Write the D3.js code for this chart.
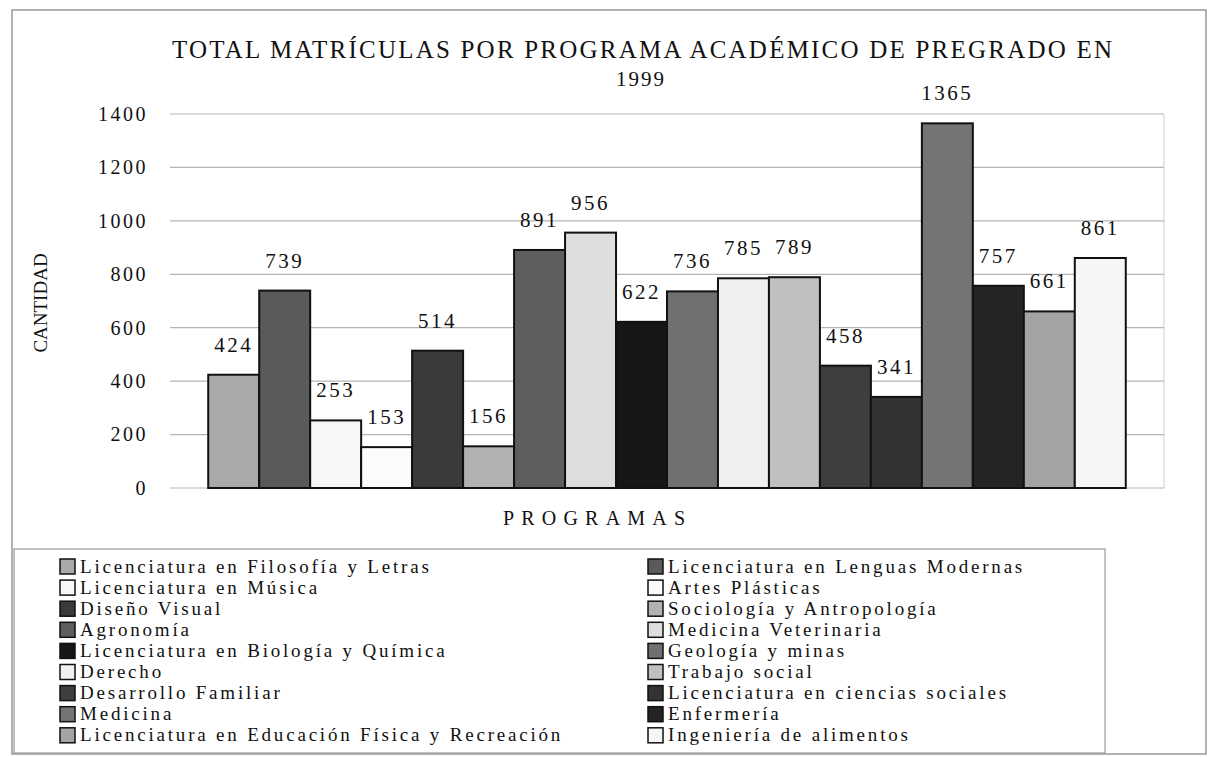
<!DOCTYPE html>
<html>
<head>
<meta charset="utf-8">
<script src="https://cdn.jsdelivr.net/npm/d3@7"></script>
<style>
  body { margin: 0; background: #fff; }
  svg text { font-family: "Liberation Serif", "Times New Roman", serif; fill: #111; }
</style>
</head>
<body>
<div id="chart"></div>
<script>
// datos
var programas = [
  "Licenciatura en Filosofía y Letras",
  "Licenciatura en Lenguas Modernas",
  "Licenciatura en Música",
  "Artes Plásticas",
  "Diseño Visual",
  "Sociología y Antropología",
  "Agronomía",
  "Medicina Veterinaria",
  "Licenciatura en Biología y Química",
  "Geología y minas",
  "Derecho",
  "Trabajo social",
  "Desarrollo Familiar",
  "Licenciatura en ciencias sociales",
  "Medicina",
  "Enfermería",
  "Licenciatura en Educación Física y Recreación",
  "Ingeniería de alimentos"
]
var matriculas = [424, 739, 253, 153, 514, 156, 891, 956, 622, 736, 785, 789, 458, 341, 1365, 757, 661, 861]
var colores = ["#a9a9a9", "#5a5a5a", "#f7f7f7", "#fbfbfb", "#3a3a3a", "#b2b2b2", "#5e5e5e", "#dedede",
  "#161616", "#707070", "#f0f0f0", "#c0c0c0", "#3e3e3e", "#333333", "#747474", "#242424", "#a4a4a4", "#f6f6f6"]
var yTicks = [0, 200, 400, 600, 800, 1000, 1200, 1400]

var W = 1211, H = 757
var plot = {left: 170, right: 1164, top: 114, bottom: 488}

var svg = d3.select("#chart").append("svg")
  .attr("width", W)
  .attr("height", H)

// marco exterior
svg.append("rect")
  .attr("x", 12).attr("y", 10)
  .attr("width", 1194).attr("height", 744)
  .attr("fill", "none").attr("stroke", "#999").attr("stroke-width", 1.5)

svg.append("text")
  .attr("x", 172).attr("y", 58)
  .attr("textLength", 940).attr("lengthAdjust", "spacing")
  .style("font-size", "25px")
  .text("TOTAL MATRÍCULAS POR PROGRAMA ACADÉMICO DE PREGRADO  EN")

svg.append("text")
  .attr("x", 641).attr("y", 86)
  .attr("text-anchor", "middle")
  .style("font-size", "21px").style("letter-spacing", "2px")
  .text("1999")

var y = d3.scaleLinear().domain([0, 1400]).range([plot.bottom, plot.top])
var x = d3.scaleBand().domain(programas).range([plot.left, plot.right])
  .paddingInner(0).paddingOuter(0.75)

var g = svg.append("g")

// lineas de division
g.selectAll(".grid").data(yTicks).enter().append("line")
  .attr("class", "grid")
  .attr("x1", plot.left).attr("x2", plot.right)
  .attr("y1", function(d){ return y(d) }).attr("y2", function(d){ return y(d) })
  .attr("stroke", "#b5b5b5").attr("stroke-width", 1.2)

g.append("line")
  .attr("x1", plot.right).attr("x2", plot.right)
  .attr("y1", plot.top).attr("y2", plot.bottom)
  .attr("stroke", "#cfcfcf").attr("stroke-width", 1)

var yAxis = d3.axisLeft(y).tickValues(yTicks).tickFormat(d3.format("d")).tickSize(0).tickPadding(22)
var ya = g.append("g").attr("transform", "translate(" + plot.left + ",0)").call(yAxis)
ya.select(".domain").remove()
ya.selectAll("text")
  .style("font-size", "20px").style("letter-spacing", "2.5px")
  .style("font-family", "Liberation Serif, serif").attr("fill", "#111")

svg.append("text")
  .attr("transform", "translate(47,303) rotate(-90)")
  .attr("text-anchor", "middle")
  .style("font-size", "19px")
  .text("CANTIDAD")

var bars = g.selectAll(".bar").data(matriculas).enter().append("rect")
  .attr("class", "bar")
  .attr("x", function(d, i){ return x(programas[i]) })
  .attr("width", x.bandwidth())
  .attr("y", function(d){ return y(d) })
  .attr("height", function(d){ return y(0) - y(d) })
  .attr("fill", function(d, i){ return colores[i] })
  .attr("stroke", "#111").attr("stroke-width", 2)

g.selectAll(".val").data(matriculas).enter().append("text")
  .attr("class", "val")
  .attr("x", function(d, i){ return x(programas[i]) + x.bandwidth() / 2 })
  .attr("y", function(d){ return y(d) - 23 })
  .attr("text-anchor", "middle")
  .style("font-size", "21px").style("letter-spacing", "2.5px")
  .text(function(d){ return d })

svg.append("text")
  .attr("x", 503).attr("y", 525)
  .attr("textLength", 182).attr("lengthAdjust", "spacing")
  .style("font-size", "20px")
  .text("PROGRAMAS")

// leyenda, dos columnas, orden por filas
svg.append("rect")
  .attr("x", 14).attr("y", 549)
  .attr("width", 1091).attr("height", 204)
  .attr("fill", "#fff").attr("stroke", "#999").attr("stroke-width", 1.2)

var leg = svg.selectAll(".leg").data(programas).enter().append("g")
  .attr("class", "leg")
  .attr("transform", function(d, i){
    var col = i % 2, row = Math.floor(i / 2)
    return "translate(" + (col ? 648 : 60) + "," + (566 + row * 21.1) + ")"
  })

leg.append("rect")
  .attr("x", 0).attr("y", -7)
  .attr("width", 15).attr("height", 15)
  .attr("fill", function(d, i){ return colores[i] })
  .attr("stroke", "#111").attr("stroke-width", 1.5)

leg.append("text")
  .attr("x", 20).attr("y", 6.5)
  .style("font-size", "19px").style("letter-spacing", "2.8px")
  .text(function(d){ return d })
</script>
</body>
</html>
